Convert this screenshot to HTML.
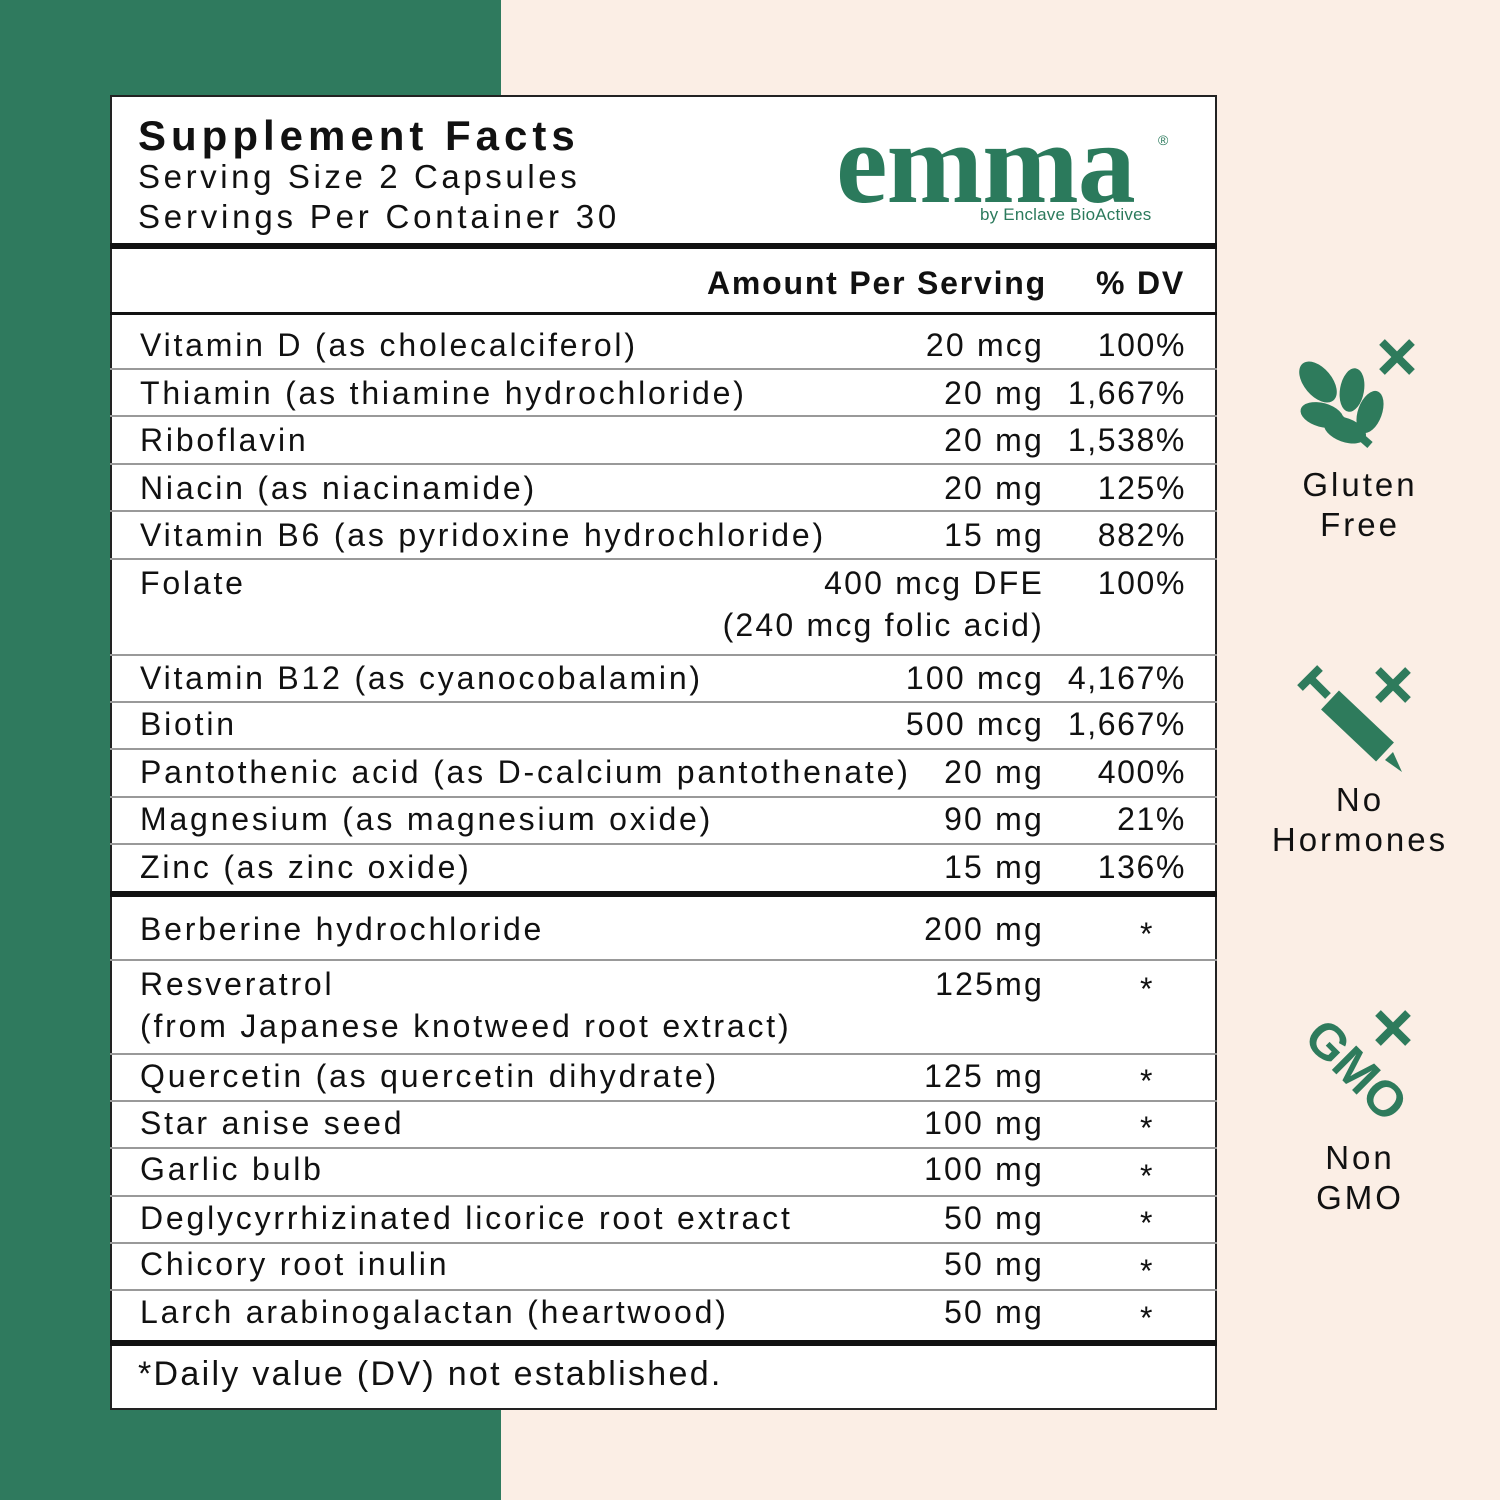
<!DOCTYPE html>
<html><head><meta charset="utf-8"><style>
*{margin:0;padding:0;box-sizing:border-box}
body{width:1500px;height:1500px;position:relative;overflow:hidden;background:#fbeee5;font-family:"Liberation Sans",sans-serif;color:#111}
.g{position:absolute;left:0;top:0;width:501px;height:1500px;background:#2f7a5e}
.box{position:absolute;left:110px;top:95px;width:1107px;height:1315px;background:#fff;border:2px solid #222}
.t{position:absolute;font-size:32px;letter-spacing:2.8px;white-space:nowrap;line-height:36px}
.l{left:140px}
.a{right:456px;text-align:right;letter-spacing:2.2px}
.d{right:314px;text-align:right;letter-spacing:1.6px}
.s{left:1140px}
.hl{position:absolute;left:110px;width:1107px;background:#999;height:2px}
.hk{position:absolute;left:110px;width:1107px;background:#111}
.ic{position:absolute;text-align:center;font-size:33px;letter-spacing:3px;line-height:40px;width:260px;left:1230px}
</style></head><body>
<div class="g"></div>
<div class="box"></div>
<div class="t" style="left:138px;top:112px;font-size:42px;font-weight:bold;letter-spacing:5px;line-height:48px">Supplement Facts</div>
<div class="t" style="left:138px;top:159px;font-size:33px;letter-spacing:3.6px">Serving Size 2 Capsules</div>
<div class="t" style="left:138px;top:199px;font-size:33px;letter-spacing:3.8px">Servings Per Container  30</div>
<div style="position:absolute;left:836px;top:104px;font-family:'Liberation Serif',serif;font-weight:bold;font-size:116px;line-height:120px;color:#2b7a5c;letter-spacing:-1px">emma</div>
<div style="position:absolute;left:1158px;top:132px;font-size:14px;color:#2b7a5c">®</div>
<div style="position:absolute;left:980px;top:205px;font-size:17px;color:#2b7a5c;letter-spacing:0.2px">by Enclave BioActives</div>
<div class="hk" style="top:243px;height:6px"></div>
<div class="t" style="right:453px;top:265px;font-weight:bold;font-size:32px;letter-spacing:1.8px">Amount Per Serving</div>
<div class="t" style="right:315px;top:265px;font-weight:bold;font-size:32px;letter-spacing:1.8px">% DV</div>
<div class="hk" style="top:312px;height:3px"></div>

<div class="t l" style="top:327px">Vitamin D (as cholecalciferol)</div><div class="t a" style="top:327px">20 mcg</div><div class="t d" style="top:327px">100%</div>
<div class="hl" style="top:368px"></div>
<div class="t l" style="top:375px">Thiamin (as thiamine hydrochloride)</div><div class="t a" style="top:375px">20 mg</div><div class="t d" style="top:375px">1,667%</div>
<div class="hl" style="top:415px"></div>
<div class="t l" style="top:422px">Riboflavin</div><div class="t a" style="top:422px">20 mg</div><div class="t d" style="top:422px">1,538%</div>
<div class="hl" style="top:463px"></div>
<div class="t l" style="top:470px">Niacin (as niacinamide)</div><div class="t a" style="top:470px">20 mg</div><div class="t d" style="top:470px">125%</div>
<div class="hl" style="top:510px"></div>
<div class="t l" style="top:517px">Vitamin B6 (as pyridoxine hydrochloride)</div><div class="t a" style="top:517px">15 mg</div><div class="t d" style="top:517px">882%</div>
<div class="hl" style="top:558px"></div>
<div class="t l" style="top:565px">Folate</div><div class="t a" style="top:565px">400 mcg DFE</div><div class="t d" style="top:565px">100%</div>
<div class="t a" style="top:607px">(240 mcg folic acid)</div>
<div class="hl" style="top:654px"></div>
<div class="t l" style="top:660px">Vitamin B12 (as cyanocobalamin)</div><div class="t a" style="top:660px">100 mcg</div><div class="t d" style="top:660px">4,167%</div>
<div class="hl" style="top:701px"></div>
<div class="t l" style="top:706px">Biotin</div><div class="t a" style="top:706px">500 mcg</div><div class="t d" style="top:706px">1,667%</div>
<div class="hl" style="top:748px"></div>
<div class="t l" style="top:754px">Pantothenic acid (as D-calcium pantothenate)</div><div class="t a" style="top:754px">20 mg</div><div class="t d" style="top:754px">400%</div>
<div class="hl" style="top:796px"></div>
<div class="t l" style="top:801px">Magnesium (as magnesium oxide)</div><div class="t a" style="top:801px">90 mg</div><div class="t d" style="top:801px">21%</div>
<div class="hl" style="top:843px"></div>
<div class="t l" style="top:849px">Zinc (as zinc oxide)</div><div class="t a" style="top:849px">15 mg</div><div class="t d" style="top:849px">136%</div>
<div class="hk" style="top:891px;height:6px"></div>

<div class="t l" style="top:911px">Berberine hydrochloride</div><div class="t a" style="top:911px">200 mg</div><div class="t s" style="top:916px">*</div>
<div class="hl" style="top:959px"></div>
<div class="t l" style="top:966px">Resveratrol</div><div class="t a" style="top:966px">125mg</div><div class="t s" style="top:971px">*</div>
<div class="t l" style="top:1008px">(from Japanese knotweed root extract)</div>
<div class="hl" style="top:1053px"></div>
<div class="t l" style="top:1058px">Quercetin (as quercetin dihydrate)</div><div class="t a" style="top:1058px">125 mg</div><div class="t s" style="top:1063px">*</div>
<div class="hl" style="top:1100px"></div>
<div class="t l" style="top:1105px">Star anise seed</div><div class="t a" style="top:1105px">100 mg</div><div class="t s" style="top:1110px">*</div>
<div class="hl" style="top:1147px"></div>
<div class="t l" style="top:1151px">Garlic bulb</div><div class="t a" style="top:1151px">100 mg</div><div class="t s" style="top:1158px">*</div>
<div class="hl" style="top:1195px"></div>
<div class="t l" style="top:1200px">Deglycyrrhizinated licorice root extract</div><div class="t a" style="top:1200px">50 mg</div><div class="t s" style="top:1205px">*</div>
<div class="hl" style="top:1242px"></div>
<div class="t l" style="top:1246px">Chicory root inulin</div><div class="t a" style="top:1246px">50 mg</div><div class="t s" style="top:1253px">*</div>
<div class="hl" style="top:1289px"></div>
<div class="t l" style="top:1294px">Larch arabinogalactan (heartwood)</div><div class="t a" style="top:1294px">50 mg</div><div class="t s" style="top:1300px">*</div>
<div class="hk" style="top:1340px;height:6px"></div>
<div class="t" style="left:138px;top:1356px;font-size:34px;letter-spacing:2.3px">*Daily value (DV) not established.</div>

<svg style="position:absolute;left:1280px;top:330px" width="150" height="130" viewBox="0 0 150 130" fill="#2e7b5c">
<g stroke="#2e7b5c" stroke-width="8"><line x1="102" y1="12" x2="132" y2="42"/><line x1="132" y1="12" x2="102" y2="42"/><line x1="50" y1="80" x2="90" y2="115"/></g>
<ellipse cx="38" cy="52" rx="14" ry="24" transform="rotate(-40 38 52)"/>
<ellipse cx="72" cy="60" rx="12" ry="22" transform="rotate(10 72 60)"/>
<ellipse cx="42" cy="85" rx="12" ry="22" transform="rotate(-75 42 85)"/>
<ellipse cx="90" cy="82" rx="12" ry="22" transform="rotate(20 90 82)"/>
<ellipse cx="65" cy="100" rx="12" ry="22" transform="rotate(-70 65 100)"/>
</svg>
<div class="ic" style="top:465px">Gluten<br>Free</div>
<svg style="position:absolute;left:1290px;top:660px" width="140" height="120" viewBox="0 0 140 120">
<g stroke="#2e7b5c" stroke-width="8"><line x1="88" y1="10" x2="118" y2="40"/><line x1="118" y1="10" x2="88" y2="40"/>
<line x1="10" y1="28" x2="30" y2="8"/><line x1="20" y1="18" x2="38" y2="36"/></g>
<line x1="40" y1="40" x2="95" y2="92" stroke="#2e7b5c" stroke-width="26"/>
<polygon points="95,100 103,92 112,112" fill="#2e7b5c"/>
</svg>
<div class="ic" style="top:780px">No<br>Hormones</div>
<svg style="position:absolute;left:1290px;top:1005px" width="140" height="120" viewBox="0 0 140 120">
<g stroke="#2e7b5c" stroke-width="8"><line x1="88" y1="8" x2="118" y2="38"/><line x1="118" y1="8" x2="88" y2="38"/></g>
<text x="0" y="0" transform="translate(12,35) rotate(45)" font-family="Liberation Sans" font-weight="bold" font-size="50" fill="#2e7b5c">GMO</text>
</svg>
<div class="ic" style="top:1138px">Non<br>GMO</div>
</body></html>
